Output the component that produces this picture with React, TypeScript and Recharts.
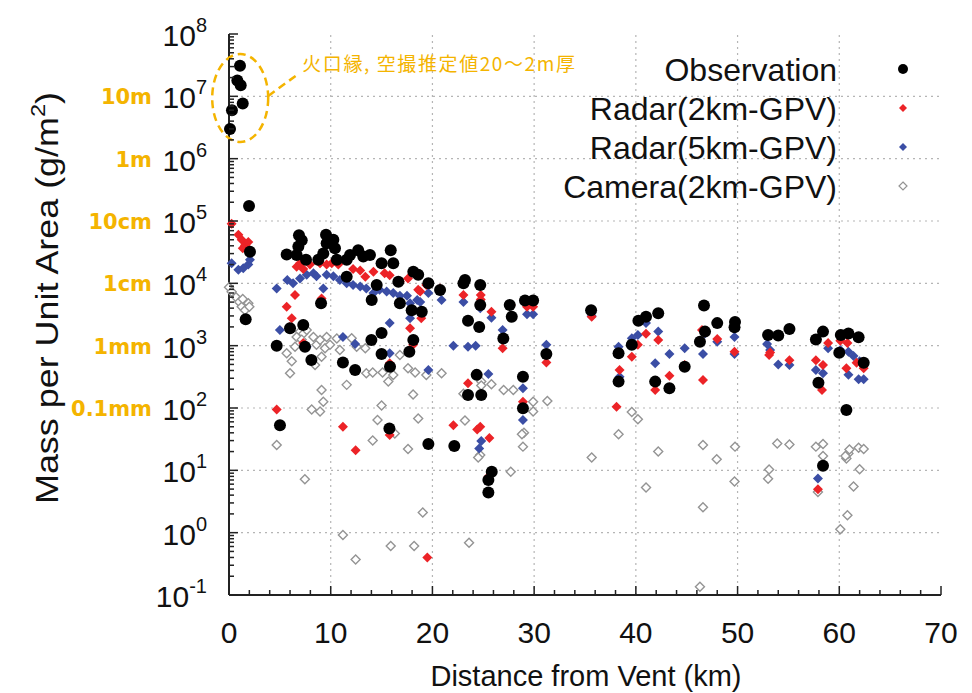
import React from "react";
import { ScatterChart, Scatter, XAxis, YAxis, ReferenceLine, ReferenceDot } from "recharts";

// ---- data (x: km from vent, y: g/m^2) ----
const obsX = [0.1, 0.29, 0.82, 1.08, 1.15, 1.35, 1.97, 2.06, 1.64, 4.69, 5.01, 5.67, 6.88, 7.15, 6.82, 6.65, 7.57, 6.0, 7.3, 7.47, 9.05, 8.1, 9.54, 9.6, 10.26, 10.42, 9.27, 8.78, 10.6, 11.57, 11.9, 12.7, 13.2, 13.86, 15.0, 15.9, 16.15, 11.57, 14.03, 14.52, 16.65, 16.8, 18.12, 18.6, 17.96, 18.12, 17.73, 19.6, 18.95, 20.75, 23.2, 23.05, 24.7, 24.7, 23.5, 24.6, 27.6, 27.8, 29.1, 29.9, 26.97, 31.2, 35.6, 38.3, 38.3, 24.35, 23.5, 24.8, 28.9, 28.9, 19.6, 22.15, 25.83, 25.5, 25.5, 39.6, 40.25, 41.0, 42.2, 41.9, 43.3, 44.8, 46.3, 46.7, 46.8, 48.0, 49.75, 49.7, 53.0, 54.0, 55.1, 57.7, 58.4, 57.95, 60.0, 60.15, 60.9, 61.9, 62.4, 60.7, 58.4, 15.77, 12.4, 11.2, 15.0, 15.0, 14.0, 15.83];
const obsY = [3.0e6, 6.0e6, 1.8e7, 3.1e7, 1.5e7, 7.7e6, 1.74e5, 3.2e4, 2650, 1000, 53, 2.9e4, 5.9e4, 4.9e4, 3.9e4, 2.85e4, 2.4e4, 1900, 2150, 960, 4800, 590, 6.0e4, 4.4e4, 5.0e4, 3.65e4, 3.0e4, 2.4e4, 2.4e4, 2.4e4, 2.85e4, 3.4e4, 2.7e4, 2.85e4, 2.1e4, 3.4e4, 2.1e4, 1.28e4, 5400, 9400, 1.06e4, 4800, 1.54e4, 1.37e4, 3700, 1230, 800, 1.0e4, 3500, 7800, 1.13e4, 1.0e4, 9400, 4500, 2500, 2000, 4500, 2900, 5300, 5300, 1300, 735, 3700, 755, 265, 340, 162, 162, 318, 99, 26.5, 24.6, 9.5, 4.4, 7.0, 1030, 2500, 2900, 3300, 265, 207, 460, 1160, 4400, 1680, 2300, 2400, 1970, 1480, 1460, 1850, 1260, 1680, 254, 770, 1480, 1570, 1360, 533, 93, 11.8, 47, 407, 537, 736, 1600, 1230, 460];

const r2X = [0.26, 0.92, 1.25, 1.57, 1.9, 2.06, 1.35, 6.65, 6.98, 7.3, 7.96, 8.95, 9.6, 10.1, 10.75, 12.2, 12.9, 13.4, 14.2, 15.3, 15.8, 16.8, 17.6, 18.6, 19.4, 20.75, 9.1, 6.49, 5.67, 6.17, 5.93, 7.3, 17.8, 18.1, 15.8, 15.8, 4.69, 11.2, 12.45, 19.5, 18.8, 18.9, 23.05, 24.75, 24.75, 25.8, 27.7, 29.3, 29.9, 26.9, 31.2, 23.5, 28.9, 22.06, 24.7, 24.4, 25.6, 25.5, 38.1, 38.4, 39.6, 40.2, 41.0, 42.2, 41.9, 43.3, 44.8, 46.5, 46.6, 48.0, 49.7, 53.2, 35.66, 53.1, 55.1, 57.7, 58.3, 58.9, 60.1, 60.8, 60.7, 61.7, 62.4, 58.4, 57.9];
const r2Y = [9.0e4, 6.0e4, 5.0e4, 4.1e4, 4.6e4, 3.4e4, 3.65e4, 1.85e4, 2.1e4, 1.7e4, 2.0e4, 2.1e4, 2.0e4, 2.1e4, 2.0e4, 1.7e4, 1.6e4, 1.28e4, 1.53e4, 1.45e4, 1.35e4, 1.06e4, 1.2e4, 7900, 9400, 8300, 5700, 6500, 4200, 2760, 2000, 1100, 1900, 1030, 520, 37, 95, 50, 21, 0.4, 7400, 2750, 6500, 6500, 5500, 3500, 4500, 4200, 4200, 910, 537, 249, 126, 53, 50, 45, 33, 7.9, 105, 407, 665, 1030, 1550, 1230, 195, 330, 490, 1780, 281, 1280, 800, 775, 2900, 710, 585, 585, 195, 1100, 1200, 1100, 435, 530, 435, 490, 4.97];

const r5X = [0.26, 0.92, 1.4, 1.9, 2.06, 4.69, 5.0, 5.73, 6.3, 6.98, 7.64, 8.3, 8.6, 9.27, 9.6, 10.26, 10.9, 11.57, 12.2, 12.9, 13.5, 14.2, 14.8, 15.5, 16.15, 16.8, 17.5, 17.8, 18.5, 18.95, 17.8, 15.8, 15.8, 12.4, 11.2, 19.6, 7.64, 20.9, 18.8, 19.6, 23.05, 24.7, 25.8, 27.8, 29.3, 29.9, 26.9, 22.06, 23.5, 24.25, 31.2, 25.5, 28.9, 28.9, 23.6, 35.66, 38.3, 38.4, 24.8, 24.6, 25.5, 39.6, 40.2, 41.0, 42.2, 41.9, 43.3, 44.8, 46.6, 46.8, 48.0, 49.7, 49.7, 52.9, 53.2, 54.0, 55.1, 57.7, 58.4, 58.9, 60.1, 60.9, 61.4, 62.0, 60.9, 61.9, 62.4, 57.9];
const r5Y = [2.1e4, 1.65e4, 1.75e4, 2.0e4, 2.4e4, 8300, 1780, 1.13e4, 1.0e4, 1.2e4, 1.37e4, 1.45e4, 1.3e4, 8300, 1.37e4, 1.3e4, 1.13e4, 1.0e4, 9400, 8900, 8300, 7000, 7900, 7400, 7000, 6300, 6300, 4800, 5400, 3100, 2760, 2300, 755, 1060, 1380, 407, 964, 5400, 5000, 7000, 5000, 4000, 2800, 3000, 3200, 3200, 1780, 1000, 964, 1000, 1030, 350, 207, 64, 2500, 3000, 964, 318, 29.5, 22.5, 7.4, 1320, 1480, 2300, 1680, 520, 735, 910, 735, 1570, 1160, 1380, 735, 1060, 850, 500, 490, 407, 360, 910, 850, 800, 685, 560, 340, 290, 290, 7.4];

const camX = [0, 0.26, 0.69, 1.0, 1.25, 1.9, 1.57, 2.0, 1.35, 6.98, 6.65, 7.3, 7.15, 7.64, 6.49, 5.67, 6.17, 6.0, 8.3, 8.6, 8.95, 9.44, 9.6, 9.93, 10.6, 10.9, 8.46, 9.1, 12.06, 12.55, 13.4, 13.5, 14.13, 15.1, 15.66, 16.15, 16.8, 17.6, 18.3, 19.4, 20.9, 9.1, 9.27, 8.13, 8.95, 11.57, 15.0, 14.6, 18.1, 18.6, 14.13, 17.6, 4.69, 7.46, 16.3, 11.2, 12.45, 15.9, 18.2, 19.05, 23.05, 24.8, 24.8, 25.8, 27.0, 27.95, 23.2, 29.9, 29.9, 31.3, 24.7, 24.5, 29.0, 28.8, 28.9, 35.66, 27.7, 23.6, 38.3, 39.6, 40.2, 42.2, 41.0, 46.6, 47.95, 49.75, 49.7, 46.6, 46.3, 53.1, 53.0, 53.9, 55.1, 57.7, 58.4, 58.4, 57.9, 60.7, 60.9, 61.0, 61.9, 62.4, 62.0, 61.4, 60.8, 60.1, 60.6];
const camY = [8650, 7300, 6000, 5000, 4200, 4800, 3700, 4200, 5600, 1680, 1380, 1550, 1250, 1780, 964, 755, 560, 360, 1380, 1030, 1230, 910, 1380, 1030, 1300, 850, 490, 665, 1320, 964, 910, 360, 370, 370, 265, 339, 710, 435, 370, 339, 360, 195, 126, 95, 88, 235, 110, 64, 165, 68, 30, 22, 25.5, 7.2, 39, 0.92, 0.37, 0.61, 0.61, 2.1, 170, 265, 230, 240, 195, 195, 63, 126, 88, 130, 17.6, 16, 40, 38, 24, 16, 9.5, 0.69, 38, 86, 66, 20, 5.3, 25.5, 15, 24, 6.6, 2.55, 0.136, 10.3, 7.3, 27, 26, 24, 26.5, 17, 4.5, 15.5, 18.6, 21.5, 23, 22, 10.4, 5.5, 1.9, 1.13, 17];

const xMajor = [0, 10, 20, 30, 40, 50, 60, 70];
const yExponents = [-1, 0, 1, 2, 3, 4, 5, 6, 7, 8];
const depthLabels: Record<number, string> = { 7: "10m", 6: "1m", 5: "10cm", 4: "1cm", 3: "1mm", 2: "0.1mm" };
const seriesNames = ["Observation", "Radar(2km-GPV)", "Radar(5km-GPV)", "Camera(2km-GPV)"];
const noteText = "火口縁, 空撮推定値20～2m厚";

const zip = (xs: number[], ys: number[]) => xs.map((x, i) => ({ x, y: ys[i] }));
const obsData = zip(obsX, obsY);
const r2Data = zip(r2X, r2Y);
const r5Data = zip(r5X, r5Y);
const camData = zip(camX, camY);

const xTicks: number[] = [];
for (let v = 0; v <= 70; v += 2) xTicks.push(v);
const yTicks: number[] = [];
yExponents.forEach((e) => {
  yTicks.push(Math.pow(10, e));
  if (e < 8) for (let m = 2; m <= 9; m++) yTicks.push(m * Math.pow(10, e));
});

const FONT = "'Liberation Sans', Arial, Helvetica, sans-serif";
const ORANGE = "#f4b400";
const RED = "#ec2327";
const BLUE = "#3b4ea5";
const GRAY = "#949494";
const AXIS = "#222";

const isMajorY = (v: number) => Math.abs(Math.log10(v) - Math.round(Math.log10(v))) < 1e-6;

const BottomTick = ({ x, y, payload }: any) => {
  const major = payload.value % 10 === 0;
  return (
    <g>
      <line x1={x} x2={x} y1={y} y2={y - (major ? 9 : 5)} stroke={AXIS} strokeWidth={1.5} />
      {major && (
        <text x={x} y={y + 48} textAnchor="middle" fontSize={30} fontFamily={FONT} fill="#111">
          {payload.value}
        </text>
      )}
    </g>
  );
};

const TopTick = ({ x, y, payload }: any) => {
  const major = payload.value % 10 === 0;
  return <line x1={x} x2={x} y1={y} y2={y + (major ? 9 : 5)} stroke={AXIS} strokeWidth={1.5} />;
};

const LeftTick = ({ x, y, payload }: any) => {
  const major = isMajorY(payload.value);
  const e = Math.round(Math.log10(payload.value));
  return (
    <g>
      <line x1={x} x2={x + (major ? 9 : 5)} y1={y} y2={y} stroke={AXIS} strokeWidth={1.5} />
      {major && (
        <text x={x - 22} y={y + 12} textAnchor="end" fontSize={30} fontFamily={FONT} fill="#111">
          10
          <tspan dy={-14} fontSize={20}>{e}</tspan>
        </text>
      )}
      {major && depthLabels[e] && (
        <text x={x - 77} y={y + 8} textAnchor="end" fontSize={21} fontWeight="bold" fontFamily="'DejaVu Sans', Verdana, sans-serif" fill={ORANGE}>
          {depthLabels[e]}
        </text>
      )}
    </g>
  );
};

const RightTick = ({ x, y, payload }: any) => {
  const major = isMajorY(payload.value);
  return <line x1={x} x2={x - (major ? 9 : 5)} y1={y} y2={y} stroke={AXIS} strokeWidth={1.5} />;
};

const Dot = (p: any) => <circle cx={p.cx} cy={p.cy} r={6} fill="#000" />;
const diamondPts = (cx: number, cy: number, s: number) =>
  `${cx},${cy - s} ${cx + s},${cy} ${cx},${cy + s} ${cx - s},${cy}`;
const RedDiamond = (p: any) => <polygon points={diamondPts(p.cx, p.cy, 5)} fill={RED} />;
const BlueDiamond = (p: any) => <polygon points={diamondPts(p.cx, p.cy, 5)} fill={BLUE} />;
const OpenDiamond = (p: any) => (
  <polygon points={diamondPts(p.cx, p.cy, 4.5)} fill="#fff" stroke={GRAY} strokeWidth={1.4} />
);

// dashed ellipse around the crater-rim observations + note
const CraterNote = (p: any) => (
  <g>
    <ellipse cx={p.cx} cy={p.cy} rx={28} ry={44} fill="none" stroke={ORANGE} strokeWidth={2.5} strokeDasharray="8 5" />
    <line x1={p.cx + 28} y1={p.cy - 2} x2={p.cx + 58} y2={p.cy - 24} stroke={ORANGE} strokeWidth={2.5} strokeDasharray="8 5" />
    <text x={p.cx + 62} y={p.cy - 27} fontSize={19} letterSpacing={1.6} fontFamily="'Noto Sans CJK JP', sans-serif" fill={ORANGE}>
      {noteText}
    </text>
  </g>
);

const legendSymbols = [
  <circle cx={0} cy={0} r={5} fill="#000" />,
  <polygon points={diamondPts(0, 0, 4)} fill={RED} />,
  <polygon points={diamondPts(0, 0, 4)} fill={BLUE} />,
  <polygon points={diamondPts(0, 0, 4)} fill="#fff" stroke={GRAY} strokeWidth={1.2} />,
];

export default function App() {
  return (
    <div style={{ position: "absolute", left: 0, top: 0, width: 972, height: 693, background: "#fff", overflow: "hidden" }}>
      <ScatterChart width={972} height={693} margin={{ top: 34, right: 31, bottom: 38, left: 29 }}>
        <XAxis
          type="number"
          dataKey="x"
          domain={[0, 70]}
          ticks={xTicks}
          interval={0}
          height={60}
          tickSize={0}
          tickMargin={0}
          tickLine={false}
          tick={<BottomTick />}
          axisLine={{ stroke: AXIS, strokeWidth: 2 }}
        />
        <XAxis
          xAxisId="top"
          orientation="top"
          type="number"
          dataKey="x"
          domain={[0, 70]}
          ticks={xTicks}
          interval={0}
          height={0}
          tickSize={0}
          tickMargin={0}
          tickLine={false}
          tick={<TopTick />}
          axisLine={{ stroke: AXIS, strokeWidth: 2 }}
        />
        <YAxis
          type="number"
          dataKey="y"
          scale="log"
          domain={[0.1, 1e8]}
          allowDataOverflow
          ticks={yTicks}
          interval={0}
          width={200}
          tickSize={0}
          tickMargin={0}
          tickLine={false}
          tick={<LeftTick />}
          axisLine={{ stroke: AXIS, strokeWidth: 2 }}
        />
        <YAxis
          yAxisId="right"
          orientation="right"
          type="number"
          dataKey="y"
          scale="log"
          domain={[0.1, 1e8]}
          allowDataOverflow
          ticks={yTicks}
          interval={0}
          width={0}
          tickSize={0}
          tickMargin={0}
          tickLine={false}
          tick={<RightTick />}
          axisLine={{ stroke: AXIS, strokeWidth: 2 }}
        />
        {xMajor.slice(1, -1).map((v) => (
          <ReferenceLine key={`gx${v}`} x={v} stroke="#b5b5b5" strokeDasharray="2 4" strokeWidth={1.2} />
        ))}
        {yExponents.slice(1, -1).map((e) => (
          <ReferenceLine key={`gy${e}`} y={Math.pow(10, e)} stroke="#b5b5b5" strokeDasharray="2 4" strokeWidth={1.2} />
        ))}
        <Scatter name={seriesNames[3]} data={camData} shape={OpenDiamond} isAnimationActive={false} />
        <Scatter name={seriesNames[2]} data={r5Data} shape={BlueDiamond} isAnimationActive={false} />
        <Scatter name={seriesNames[1]} data={r2Data} shape={RedDiamond} isAnimationActive={false} />
        <Scatter name={seriesNames[0]} data={obsData} shape={Dot} isAnimationActive={false} />
        <ReferenceDot x={1.1} y={9.4e6} ifOverflow="visible" shape={CraterNote} />
      </ScatterChart>
      <svg width={972} height={693} style={{ position: "absolute", left: 0, top: 0, pointerEvents: "none" }}>
        <text
          transform="translate(58,298) rotate(-90)"
          textAnchor="middle"
          fontSize={32}
          fontFamily={FONT}
          fill="#111"
          textLength={412}
          lengthAdjust="spacingAndGlyphs"
        >
          Mass per Unit Area (g/m
          <tspan dy={-13} fontSize={21}>2</tspan>
          <tspan dy={13}>)</tspan>
        </text>
        <text x={586} y={686} textAnchor="middle" fontSize={29} fontFamily={FONT} fill="#111">
          Distance from Vent (km)
        </text>
        {seriesNames.map((n, i) => (
          <g key={n}>
            <text x={837} y={81 + i * 39} textAnchor="end" fontSize={32} fontFamily={FONT} fill="#111">
              {n}
            </text>
            <g transform={`translate(903,${69 + i * 39})`}>{legendSymbols[i]}</g>
          </g>
        ))}
      </svg>
    </div>
  );
}
